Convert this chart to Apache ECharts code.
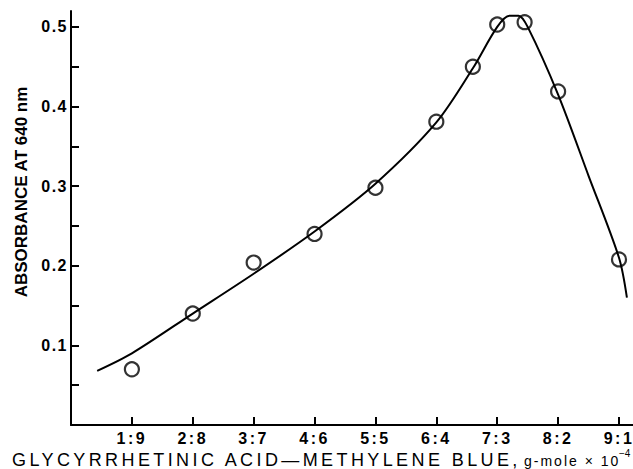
<!DOCTYPE html>
<html>
<head>
<meta charset="utf-8">
<script src="https://cdn.jsdelivr.net/npm/echarts@6/dist/echarts.min.js"></script>
<style>
  html, body { margin: 0; padding: 0; background: #fff; }
  #main { width: 633px; height: 469px; }
</style>
</head>
<body>
<div id="main"></div>
<script>
// mole ratio labels on the x axis (glycyrrhetinic acid : methylene blue)
var ratioLabels = ['1:9', '2:8', '3:7', '4:6', '5:5', '6:4', '7:3', '8:2', '9:1'];
var ratioTicks = [1, 2, 3, 4, 5, 6, 7, 8, 9];
var yTicks = [0.05, 0.1, 0.15, 0.2, 0.25, 0.3, 0.35, 0.4, 0.45, 0.5];
var yLabels = [0.1, 0.2, 0.3, 0.4, 0.5];

// measured points (open circles)
var obsX = [1, 2, 3, 4, 5, 6, 6.6, 7, 7.45, 8, 9];
var obsY = [0.070, 0.140, 0.204, 0.240, 0.298, 0.381, 0.450, 0.503, 0.506, 0.419, 0.208];

// drawn curve
var fitX = [0.43, 1, 2, 3, 4, 5, 6, 6.6, 7, 7.2, 7.35, 7.5, 8, 8.5, 9, 9.13];
var fitY = [0.068, 0.090, 0.140, 0.190, 0.243, 0.303, 0.380, 0.448, 0.500, 0.514, 0.514, 0.500, 0.415, 0.313, 0.210, 0.160];

var FONT = "'Liberation Sans', Arial, sans-serif";

var myChart = echarts.init(document.getElementById('main'), null, { renderer: 'svg' });

var option = {
    backgroundColor: '#fff',
    animation: false,
    grid: { left: 71, right: 0, top: 11, bottom: 44, outerBoundsMode: 'none' },
    xAxis: {
        type: 'value',
        min: 0,
        max: 9.23,
        splitLine: { show: false },
        axisLine: { show: true, lineStyle: { color: '#000', width: 2 } },
        axisTick: {
            show: true, inside: true, length: 8,
            customValues: ratioTicks,
            lineStyle: { color: '#000', width: 2 }
        },
        axisLabel: {
            customValues: ratioTicks,
            margin: 5,
            color: '#000',
            fontFamily: FONT,
            fontWeight: 'bold',
            fontSize: 16,
            formatter: function (v) {
                return ratioLabels[Math.round(v) - 1] || '';
            }
        }
    },
    yAxis: {
        type: 'value',
        min: 0,
        max: 0.52,
        splitLine: { show: false },
        axisLine: { show: true, lineStyle: { color: '#000', width: 2 } },
        axisTick: {
            show: true, inside: true, length: 8,
            customValues: yTicks,
            lineStyle: { color: '#000', width: 2 }
        },
        axisLabel: {
            customValues: yLabels,
            margin: 3,
            color: '#000',
            fontFamily: FONT,
            fontWeight: 'bold',
            fontSize: 16,
            formatter: function (v) { return v.toFixed(1); }
        }
    },
    graphic: [
        {
            type: 'text', x: 21, y: 192, rotation: Math.PI / 2,
            style: {
                text: 'ABSORBANCE AT 640 nm', fill: '#000',
                font: 'bold 17px ' + FONT,
                align: 'center', verticalAlign: 'middle'
            }
        },
        {
            type: 'text', x: 12, y: 460,
            style: {
                text: 'GLYCYRRHETINIC ACID\u2014METHYLENE BLUE,', fill: '#000',
                font: '18px ' + FONT, align: 'left', verticalAlign: 'middle'
            }
        },
        {
            type: 'text', x: 524, y: 461,
            style: {
                text: 'g-mole \u00d7 10', fill: '#000',
                font: '14px ' + FONT, align: 'left', verticalAlign: 'middle'
            }
        },
        {
            type: 'text', x: 619, y: 453,
            style: {
                text: '\u22124', fill: '#000',
                font: '10px ' + FONT, align: 'left', verticalAlign: 'middle'
            }
        }
    ],
    series: [
        {
            name: 'curve',
            type: 'line',
            data: fitX.map(function (x, i) { return [x, fitY[i]]; }),
            smooth: 0.3,
            showSymbol: false,
            silent: true,
            lineStyle: { color: '#000', width: 2 }
        },
        {
            name: 'observed',
            type: 'scatter',
            data: obsX.map(function (x, i) { return [x, obsY[i]]; }),
            symbol: 'circle',
            symbolSize: 14,
            itemStyle: { color: 'rgba(0,0,0,0)', borderColor: '#000', borderWidth: 2.2 }
        }
    ]
};

myChart.setOption(option);

// old lettering is widely spaced; svg text takes css letter-spacing
function spaceLetters() {
    var texts = document.querySelectorAll('#main svg text');
    for (var i = 0; i < texts.length; i++) {
        var t = texts[i], s = t.textContent, ls = 0;
        if (/^\d:\d$/.test(s)) ls = 2.5;
        else if (/^0\.\d$/.test(s)) ls = 1.5;
        else if (/GLYCYRR/.test(s)) ls = 3.4;
        else if (/g-mole/.test(s)) ls = 2;
        t.style.letterSpacing = ls + 'px';
    }
}
spaceLetters();
myChart.on('finished', spaceLetters);
setTimeout(spaceLetters, 50);
</script>
</body>
</html>
